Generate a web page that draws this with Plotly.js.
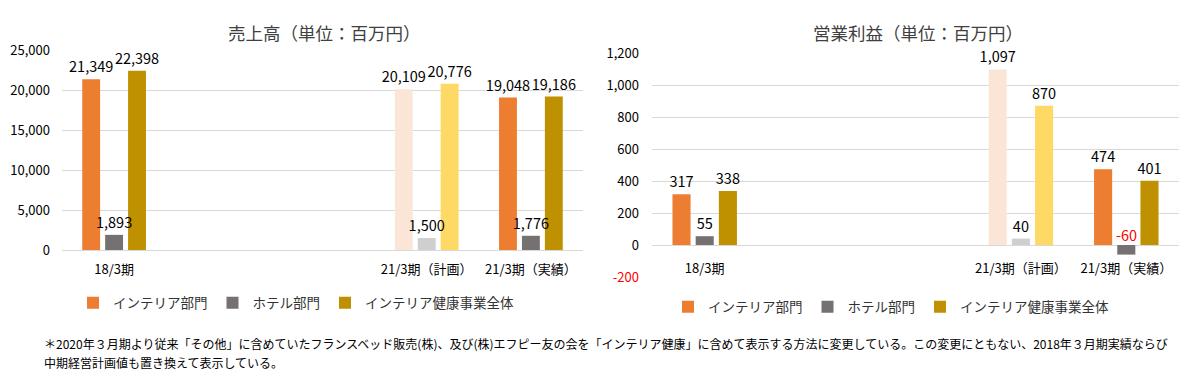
<!DOCTYPE html>
<html><head><meta charset="utf-8">
<script src="https://cdn.plot.ly/plotly-3.0.1.min.js"></script>
<style>body{margin:0;background:#fff}#chart{width:1190px;height:376px}</style>
</head><body><div id="chart"></div>
<script>
// ---- data ----
const categories = ['18/3期', '19/3期', '20/3期', '21/3期（計画）', '21/3期（実績）'];
const shownCategories = ['18/3期', '21/3期（計画）', '21/3期（実績）'];
const planCategory = '21/3期（計画）';
const seriesNames = ['インテリア部門', 'ホテル部門', 'インテリア健康事業全体'];
const salesInterior = [21349, null, null, 20109, 19048];
const salesHotel    = [1893, null, null, 1500, 1776];
const salesTotal    = [22398, null, null, 20776, 19186];
const profitInterior = [317, null, null, 1097, 474];
const profitHotel    = [55, null, null, 40, -60];
const profitTotal    = [338, null, null, 870, 401];
const salesTicks  = [0, 5000, 10000, 15000, 20000, 25000];
const profitTicks = [-200, 0, 200, 400, 600, 800, 1000, 1200];
const salesTitle = '売上高（単位：百万円）';
const profitTitle = '営業利益（単位：百万円）';
const footnoteLines = [
  '＊2020年３月期より従来「その他」に含めていたフランスベッド販売(株)、及び(株)エフピー友の会を「インテリア健康」に含めて表示する方法に変更している。この変更にともない、2018年３月期実績ならび',
  '中期経営計画値も置き換えて表示している。'
];

// ---- styles ----
const FONT = '"Noto Sans CJK JP", "Noto Sans", sans-serif';
const colors = ['#ED7D31', '#767171', '#BF9000'];
const planColors = ['#FBE5D6', '#D0CECE', '#FFD966'];
const W = 1190, H = 376;
const px = v => v / W;
const py = v => 1 - v / H;

const salesSeries = [salesInterior, salesHotel, salesTotal];
const profitSeries = [profitInterior, profitHotel, profitTotal];

const fmt = v => v.toLocaleString('en-US');

function makeBars(seriesList, xa, ya, legendId) {
  return seriesList.map((vals, i) => ({
    type: 'bar',
    name: seriesNames[i],
    x: categories,
    y: vals,
    xaxis: xa, yaxis: ya,
    offsetgroup: String(i),
    legend: legendId,
    showlegend: true,
    marker: {
      color: categories.map(c => c === planCategory ? planColors[i] : colors[i]),
      line: {width: 0}
    },
    textposition: 'none',
    hoverinfo: 'skip'
  }));
}
// transparent overlay bars that only carry the value labels, so labels sit on top of all bars
function makeLabels(seriesList, xa, ya) {
  return seriesList.map((vals, i) => ({
    type: 'bar',
    name: seriesNames[i] + ' label',
    x: categories,
    y: vals,
    xaxis: xa, yaxis: ya,
    offsetgroup: String(i),
    showlegend: false,
    marker: {color: 'rgba(0,0,0,0)', line: {width: 0}},
    text: vals.map(v => v == null ? '' : fmt(v)),
    textposition: vals.map(v => (v == null || v < 0) ? 'none' : 'outside'),
    textfont: {family: FONT, size: 14.5, color: '#000'},
    constraintext: 'none',
    cliponaxis: false,
    hoverinfo: 'skip'
  }));
}

const traces = [
  ...makeBars(salesSeries, 'x', 'y', 'legend'),
  ...makeLabels(salesSeries, 'x', 'y'),
  ...makeBars(profitSeries, 'x2', 'y2', 'legend2'),
  ...makeLabels(profitSeries, 'x2', 'y2')
];

// negative labels (drawn just above zero line, in red)
const annotations = [];
profitSeries.forEach((vals, i) => {
  vals.forEach((v, j) => {
    if (v != null && v < 0) {
      annotations.push({
        xref: 'x2', yref: 'y2', x: categories[j], y: 0,
        yanchor: 'bottom', yshift: -2, showarrow: false,
        text: fmt(v), font: {family: FONT, size: 14.5, color: '#FF0000'}
      });
    }
  });
});

annotations.push(
  {xref: 'paper', yref: 'paper', x: px(324), y: py(32), xanchor: 'center', yanchor: 'middle',
   showarrow: false, text: salesTitle, font: {family: FONT, size: 17.5, color: '#404040'}},
  {xref: 'paper', yref: 'paper', x: px(918), y: py(32), xanchor: 'center', yanchor: 'middle',
   showarrow: false, text: profitTitle, font: {family: FONT, size: 17.5, color: '#404040'}}
);
footnoteLines.forEach((line, k) => {
  annotations.push({
    xref: 'paper', yref: 'paper', x: px(42), y: py(343 + 19 * k), xanchor: 'left', yanchor: 'middle',
    showarrow: false, align: 'left', text: line,
    font: {family: FONT, size: 12, color: '#000'}
  });
});

const y1dom = [py(250), py(50)];
const y2dom = [py(277), py(53)];
const y2range = [profitTicks[0], profitTicks[profitTicks.length - 1]];
const zeroPos = y2dom[0] + (y2dom[1] - y2dom[0]) * (0 - y2range[0]) / (y2range[1] - y2range[0]);

const tickFont = {family: FONT, size: 13, color: '#000'};

const layout = {
  width: W, height: H,
  margin: {l: 0, r: 0, t: 0, b: 0},
  paper_bgcolor: '#fff', plot_bgcolor: 'rgba(0,0,0,0)',
  barmode: 'group', bargap: 0.34, bargroupgap: 0.22,
  font: {family: FONT},
  showlegend: true,
  xaxis: {
    domain: [px(62), px(583)], anchor: 'y', type: 'category',
    categoryorder: 'array', categoryarray: categories,
    tickmode: 'array', tickvals: shownCategories, ticktext: shownCategories,
    showgrid: false, showline: false, ticks: '', ticklabelstandoff: 10,
    tickfont: tickFont, fixedrange: true
  },
  yaxis: {
    domain: y1dom, anchor: 'x', range: [salesTicks[0], salesTicks[salesTicks.length - 1]],
    tickmode: 'array', tickvals: salesTicks, ticktext: salesTicks.map(fmt),
    showgrid: true, gridcolor: '#D9D9D9', gridwidth: 1,
    zeroline: true, zerolinecolor: '#D9D9D9', zerolinewidth: 1,
    showline: false, ticks: '', ticklabelstandoff: 11, tickfont: tickFont, fixedrange: true
  },
  xaxis2: {
    domain: [px(652), px(1179)], anchor: 'free', position: zeroPos, type: 'category',
    categoryorder: 'array', categoryarray: categories,
    tickmode: 'array', tickvals: shownCategories, ticktext: shownCategories,
    showgrid: false, showline: false, ticks: '', ticklabelstandoff: 14,
    tickfont: tickFont, fixedrange: true
  },
  yaxis2: {
    domain: y2dom, anchor: 'x2', range: y2range,
    tickmode: 'array', tickvals: profitTicks,
    ticktext: profitTicks.map(v => v < 0 ? '<span style="color:#FF0000">' + fmt(v) + '</span>' : fmt(v)),
    showgrid: true, gridcolor: '#D9D9D9', gridwidth: 1,
    zeroline: true, zerolinecolor: '#D9D9D9', zerolinewidth: 1,
    showline: false, ticks: '', ticklabelstandoff: 12, tickfont: tickFont, fixedrange: true
  },
  legend: {
    orientation: 'h', x: px(73), y: py(303), xanchor: 'left', yanchor: 'middle',
    font: {family: FONT, size: 13.5, color: '#333'}, bgcolor: 'rgba(0,0,0,0)',
    itemwidth: 30, traceorder: 'normal'
  },
  legend2: {
    orientation: 'h', x: px(668), y: py(307), xanchor: 'left', yanchor: 'middle',
    font: {family: FONT, size: 13.5, color: '#333'}, bgcolor: 'rgba(0,0,0,0)',
    itemwidth: 30, traceorder: 'normal'
  },
  annotations: annotations
};

Plotly.newPlot('chart', traces, layout, {staticPlot: true, displayModeBar: false});
</script>
</body></html>
